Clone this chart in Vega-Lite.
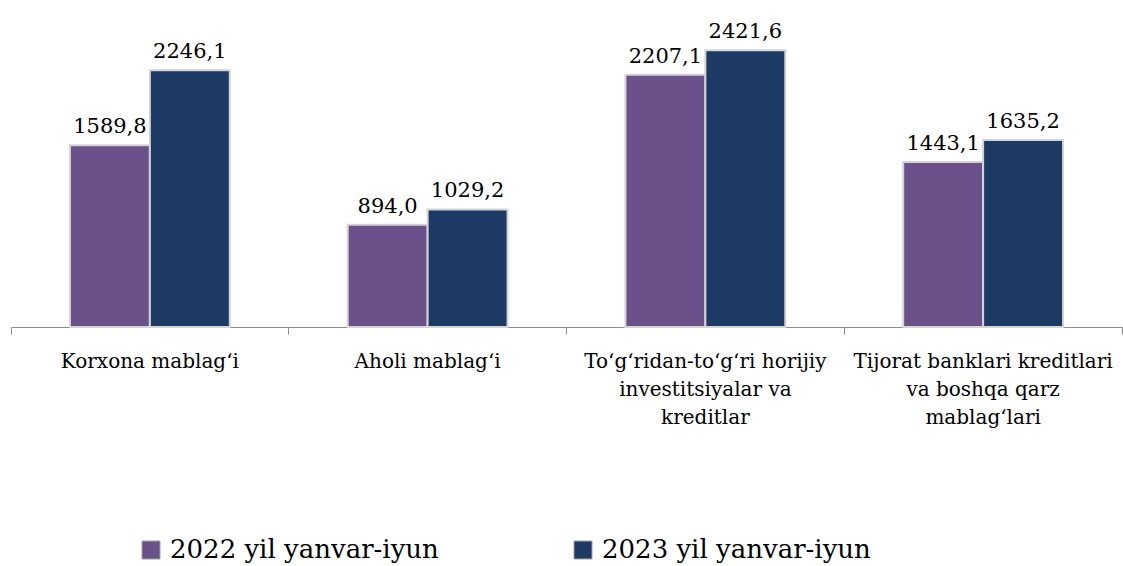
{
  "$schema": "https://vega.github.io/schema/vega-lite/v6.json",
  "width": 1111,
  "height": 320,
  "autosize": "none",
  "padding": {"left": 11, "top": 7, "right": 1, "bottom": 239},
  "background": "white",
  "config": {
    "view": {"stroke": null},
    "font": "DejaVu Serif",
    "locale": {"number": {"decimal": ",", "thousands": "", "grouping": [3], "currency": ["", ""]}}
  },
  "data": {
    "values": [
      {"category": "Korxona mablag‘i", "period": "2022 yil yanvar-iyun", "value": 1589.8},
      {"category": "Korxona mablag‘i", "period": "2023 yil yanvar-iyun", "value": 2246.1},
      {"category": "Aholi mablag‘i", "period": "2022 yil yanvar-iyun", "value": 894.0},
      {"category": "Aholi mablag‘i", "period": "2023 yil yanvar-iyun", "value": 1029.2},
      {"category": "To‘g‘ridan-to‘g‘ri horijiy investitsiyalar va kreditlar", "period": "2022 yil yanvar-iyun", "value": 2207.1},
      {"category": "To‘g‘ridan-to‘g‘ri horijiy investitsiyalar va kreditlar", "period": "2023 yil yanvar-iyun", "value": 2421.6},
      {"category": "Tijorat banklari kreditlari va boshqa qarz mablag‘lari", "period": "2022 yil yanvar-iyun", "value": 1443.1},
      {"category": "Tijorat banklari kreditlari va boshqa qarz mablag‘lari", "period": "2023 yil yanvar-iyun", "value": 1635.2}
    ]
  },
  "encoding": {
    "x": {
      "field": "category",
      "type": "nominal",
      "sort": null,
      "scale": {"paddingInner": 0, "paddingOuter": 0},
      "axis": {
        "title": null,
        "labelAngle": 0,
        "labelFont": "DejaVu Serif",
        "labelFontSize": 20,
        "labelColor": "black",
        "labelPadding": 17,
        "labelLimit": 400,
        "labelLineHeight": 28,
        "labelOverlap": false,
        "bandPosition": 1,
        "tickExtra": true,
        "tickSize": 7,
        "tickColor": "#8c8c8c",
        "domainColor": "#8c8c8c",
        "labelExpr": "datum.value == 'To‘g‘ridan-to‘g‘ri horijiy investitsiyalar va kreditlar' ? ['To‘g‘ridan-to‘g‘ri horijiy', 'investitsiyalar va', 'kreditlar'] : datum.value == 'Tijorat banklari kreditlari va boshqa qarz mablag‘lari' ? ['Tijorat banklari kreditlari', 'va boshqa qarz', 'mablag‘lari'] : datum.label"
      }
    },
    "xOffset": {
      "field": "period",
      "type": "nominal",
      "sort": null,
      "scale": {"paddingInner": 0, "paddingOuter": 0.7375}
    },
    "y": {
      "field": "value",
      "type": "quantitative",
      "scale": {"domain": [0, 2800]},
      "axis": null
    }
  },
  "layer": [
    {
      "mark": {"type": "bar", "stroke": "#d4d4d4", "strokeWidth": 2},
      "encoding": {
        "color": {
          "field": "period",
          "type": "nominal",
          "sort": null,
          "scale": {"domain": ["2022 yil yanvar-iyun", "2023 yil yanvar-iyun"], "range": ["#6a5189", "#1c3a63"]},
          "legend": {
            "orient": "none",
            "legendX": 127,
            "legendY": 530,
            "direction": "horizontal",
            "columns": 2,
            "title": null,
            "symbolType": "square",
            "symbolSize": 324,
            "symbolStrokeColor": "#a0a0a0",
            "symbolStrokeWidth": 1,
            "labelFontSize": 26,
            "labelFont": "DejaVu Serif",
            "labelColor": "black",
            "labelOffset": 6,
            "columnPadding": 131,
            "padding": 0,
            "labelLimit": 400
          }
        }
      }
    },
    {
      "mark": {"type": "text", "dy": -12, "baseline": "alphabetic", "fontSize": 21, "font": "DejaVu Serif", "color": "black"},
      "encoding": {
        "text": {"field": "value", "type": "quantitative", "format": ".1f"}
      }
    }
  ]
}
